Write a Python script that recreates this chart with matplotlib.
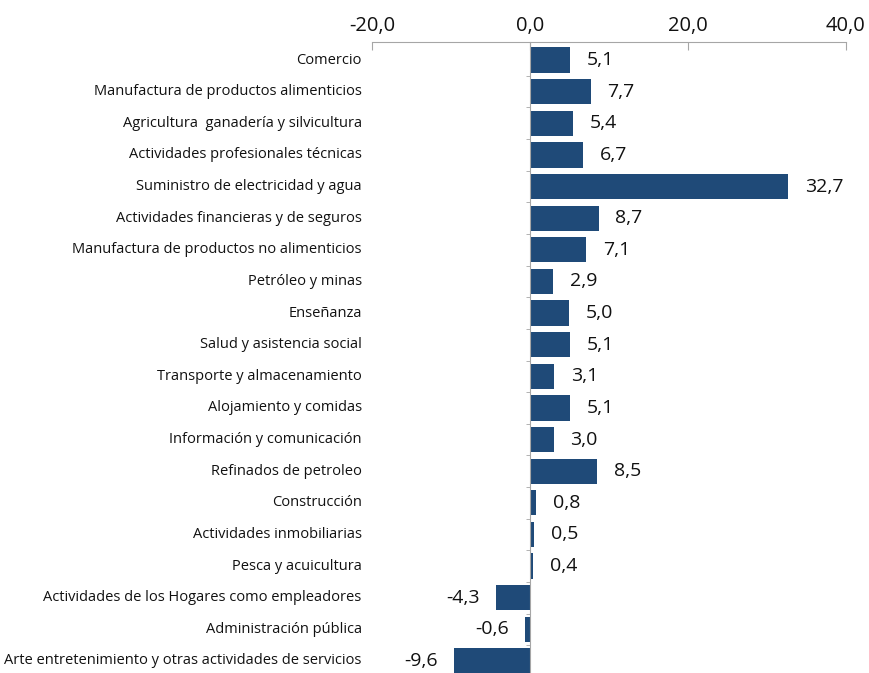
import matplotlib.pyplot as plt
from matplotlib.ticker import FuncFormatter
import matplotlib.transforms as mtransforms

plt.rcParams["font.family"] = ["Open Sans", "DejaVu Sans"]

sectors = [
    "Comercio",
    "Manufactura de productos alimenticios",
    "Agricultura  ganadería y silvicultura",
    "Actividades profesionales técnicas",
    "Suministro de electricidad y agua",
    "Actividades financieras y de seguros",
    "Manufactura de productos no alimenticios",
    "Petróleo y minas",
    "Enseñanza",
    "Salud y asistencia social",
    "Transporte y almacenamiento",
    "Alojamiento y comidas",
    "Información y comunicación",
    "Refinados de petroleo",
    "Construcción",
    "Actividades inmobiliarias",
    "Pesca y acuicultura",
    "Actividades de los Hogares como empleadores",
    "Administración pública",
    "Arte entretenimiento y otras actividades de servicios",
]
values = [5.1, 7.7, 5.4, 6.7, 32.7, 8.7, 7.1, 2.9, 5.0, 5.1,
          3.1, 5.1, 3.0, 8.5, 0.8, 0.5, 0.4, -4.3, -0.6, -9.6]
xticks = [-20, 0, 20, 40]

bar_color = "#1F4A78"
axis_color = "#A6A6A6"


def fmt(v, pos=None):
    return f"{v:.1f}".replace(".", ",")


fig = plt.figure(figsize=(8.69, 6.73), dpi=100)
ax = fig.add_axes([0.428, 0.0, 0.5455, 0.9376])

pos = list(range(len(sectors)))
ax.barh(pos, values, height=0.8, color=bar_color)
ax.set_xlim(-20, 40)
ax.set_ylim(19.38, -0.57)

# top axis
ax.xaxis.tick_top()
ax.set_xticks(xticks)
ax.xaxis.set_major_formatter(FuncFormatter(fmt))
ax.tick_params(axis="x", direction="in", length=6, color=axis_color,
               labelsize=14.5, pad=4, labelcolor="#111111")
ax.spines["top"].set_color(axis_color)
ax.spines["bottom"].set_visible(False)
ax.spines["right"].set_visible(False)

# vertical axis at zero with small ticks between categories
ax.spines["left"].set_position(("data", 0))
ax.spines["left"].set_color(axis_color)
ax.set_yticks([])
ax.set_yticks([p + 0.5 for p in pos[:-1]], minor=True)
ax.tick_params(axis="y", which="minor", direction="out", length=3,
               color=axis_color, labelleft=False)

trans = mtransforms.blended_transform_factory(ax.transAxes, ax.transData)
for p, name in zip(pos, sectors):
    ax.text(-0.0215, p, name, transform=trans, ha="right", va="center",
            fontsize=10.5, color="#111111")

for p, v in zip(pos, values):
    if v >= 0:
        ax.annotate(fmt(v), (v, p), xytext=(12, 0), textcoords="offset points",
                    ha="left", va="center", fontsize=14, color="#111111")
    else:
        ax.annotate(fmt(v), (v, p), xytext=(-12, 0), textcoords="offset points",
                    ha="right", va="center", fontsize=14, color="#111111")

plt.savefig("out.png", dpi=100)
